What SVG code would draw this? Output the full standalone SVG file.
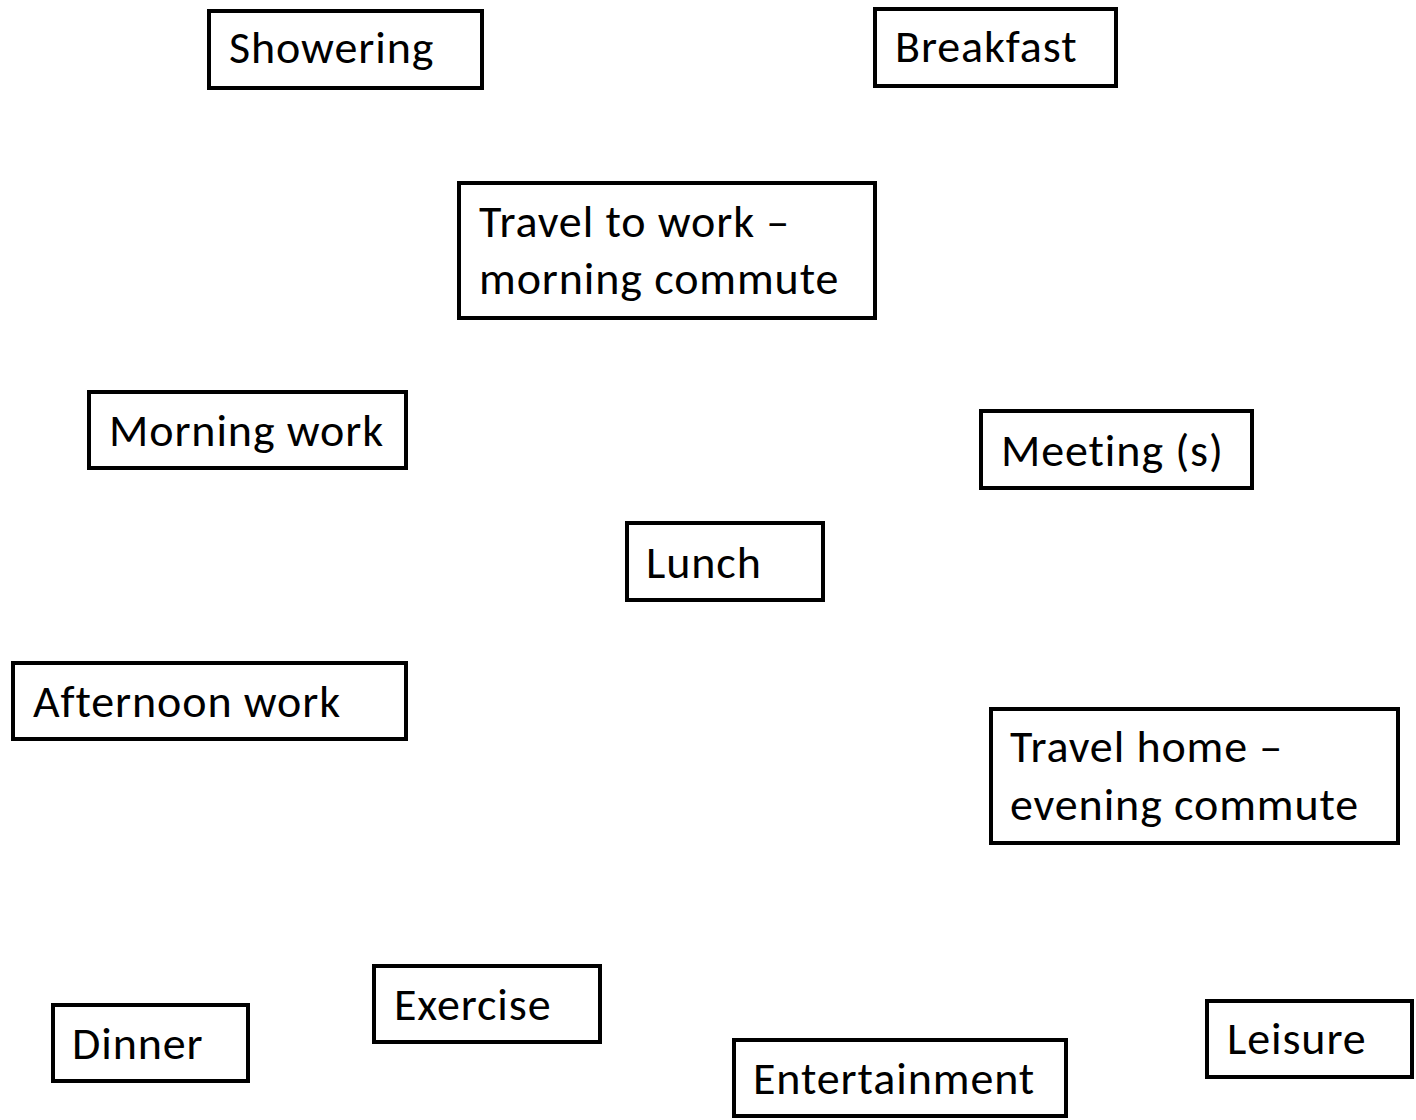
<svg xmlns="http://www.w3.org/2000/svg" width="1416" height="1120" viewBox="0 0 1416 1120">
<style>
.box{fill:#fff;stroke:#000;stroke-width:4}
.t{font-family:Carlito,Lato,"Liberation Sans",sans-serif;font-size:46px;letter-spacing:0.9px;fill:#000}
</style>
<rect width="1416" height="1120" fill="#fff"/>
<g id="showering"><rect class="box" x="209" y="11" width="273" height="77"/><text class="t" x="229" y="63">Showering</text></g>
<g id="breakfast"><rect class="box" x="875" y="9" width="241" height="77"/><text class="t" x="895" y="62">Breakfast</text></g>
<g id="travel-to-work"><rect class="box" x="459" y="183" width="416" height="135"/><text class="t" x="479" y="237">Travel to work –</text><text class="t" x="479" y="294">morning commute</text></g>
<g id="morning-work"><rect class="box" x="89" y="392" width="317" height="76"/><text class="t" x="109" y="446">Morning work</text></g>
<g id="meetings"><rect class="box" x="981" y="411" width="271" height="77"/><text class="t" x="1001" y="466">Meeting (s)</text></g>
<g id="lunch"><rect class="box" x="627" y="523" width="196" height="77"/><text class="t" x="646" y="578">Lunch</text></g>
<g id="afternoon-work"><rect class="box" x="13" y="663" width="393" height="76"/><text class="t" x="33" y="717">Afternoon work</text></g>
<g id="travel-home"><rect class="box" x="991" y="709" width="407" height="134"/><text class="t" x="1010" y="762">Travel home –</text><text class="t" x="1010" y="820">evening commute</text></g>
<g id="exercise"><rect class="box" x="374" y="966" width="226" height="76"/><text class="t" x="394" y="1020">Exercise</text></g>
<g id="dinner"><rect class="box" x="53" y="1005" width="195" height="76"/><text class="t" x="72" y="1059">Dinner</text></g>
<g id="entertainment"><rect class="box" x="734" y="1040" width="332" height="76"/><text class="t" x="753" y="1094">Entertainment</text></g>
<g id="leisure"><rect class="box" x="1207" y="1001" width="205" height="76"/><text class="t" x="1227" y="1054">Leisure</text></g>
<g id="connectors"></g>
</svg>
